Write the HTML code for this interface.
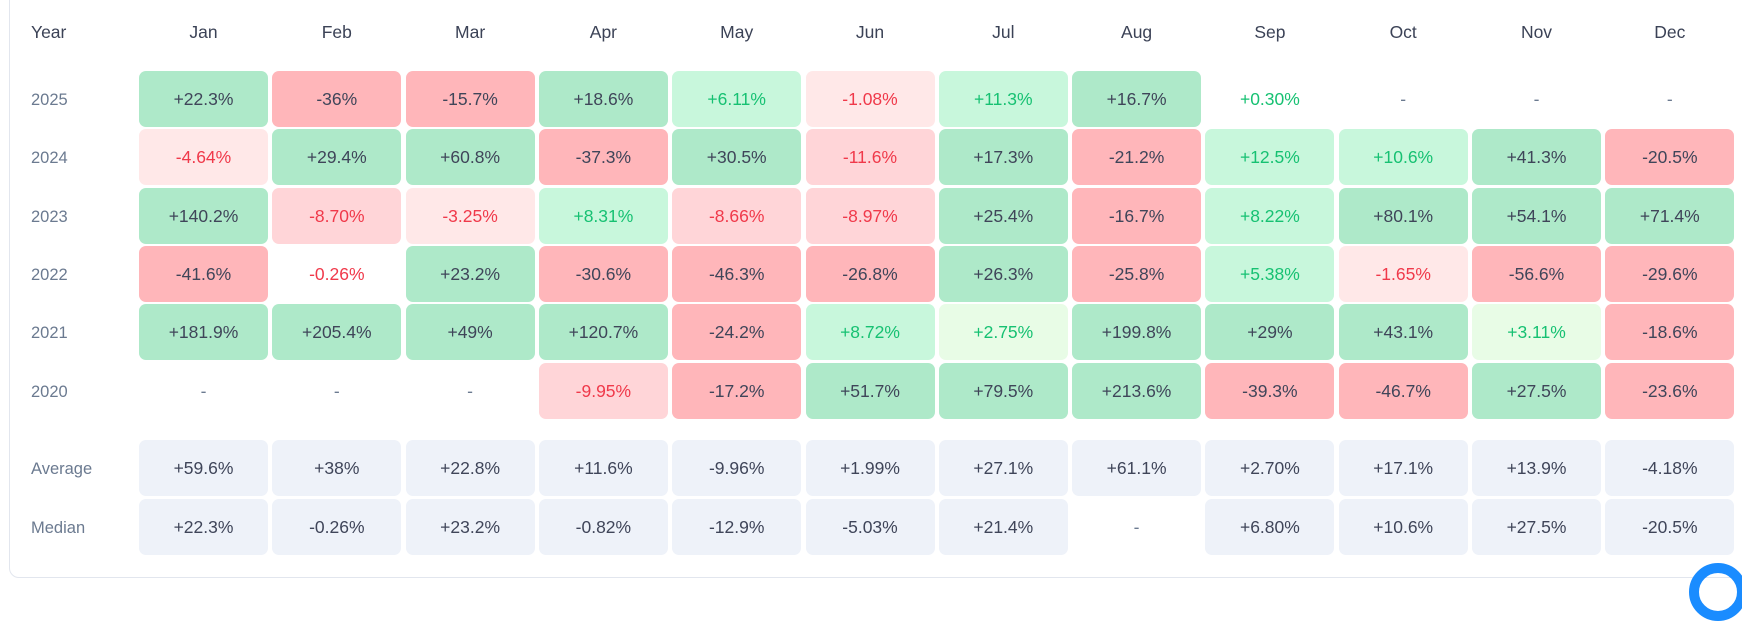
<!DOCTYPE html>
<html><head><meta charset="utf-8"><style>
html,body{margin:0;padding:0;background:#fff;width:1742px;height:583px;overflow:hidden;font-family:"Liberation Sans",sans-serif;}
#card{position:absolute;left:9px;top:-12px;width:1760px;height:590px;border:1px solid #e2e6ee;border-radius:10px;box-sizing:border-box;}
.h{position:absolute;top:20px;height:24px;line-height:24px;font-size:17.5px;color:#3b4256;text-align:center;}
.y{position:absolute;left:31px;font-size:16.5px;color:#6b7a90;}
.c{position:absolute;border-radius:7px;text-align:center;font-size:17.5px;color:#3f4559;}
#blue{position:absolute;left:1689px;top:563px;width:58px;height:58px;border-radius:50%;border:10px solid #1a8cff;box-sizing:border-box;}
</style></head><body>
<div id="card"></div>
<div id="root"></div>
<div id="blue"></div>
<script>
const months=["Jan","Feb","Mar","Apr","May","Jun","Jul","Aug","Sep","Oct","Nov","Dec"];
const years=["2025","2024","2023","2022","2021","2020"];
const v2025=[22.3,-36,-15.7,18.6,6.11,-1.08,11.3,16.7,0.30,null,null,null];
const v2024=[-4.64,29.4,60.8,-37.3,30.5,-11.6,17.3,-21.2,12.5,10.6,41.3,-20.5];
const v2023=[140.2,-8.70,-3.25,8.31,-8.66,-8.97,25.4,-16.7,8.22,80.1,54.1,71.4];
const v2022=[-41.6,-0.26,23.2,-30.6,-46.3,-26.8,26.3,-25.8,5.38,-1.65,-56.6,-29.6];
const v2021=[181.9,205.4,49,120.7,-24.2,8.72,2.75,199.8,29,43.1,3.11,-18.6];
const v2020=[null,null,null,-9.95,-17.2,51.7,79.5,213.6,-39.3,-46.7,27.5,-23.6];
const avgVals=["+59.6%","+38%","+22.8%","+11.6%","-9.96%","+1.99%","+27.1%","+61.1%","+2.70%","+17.1%","+13.9%","-4.18%"];
const medVals=["+22.3%","-0.26%","+23.2%","-0.82%","-12.9%","-5.03%","+21.4%","-","+6.80%","+10.6%","+27.5%","-20.5%"];
const series=[v2025,v2024,v2023,v2022,v2021,v2020];
const root=document.getElementById('root');
const X0=139,PX=133.3,W=129,Y0=71,PY=58.3,H=56;
function fmt(v){
 if(v===null)return '-';
 const a=Math.abs(v);
 let s=Number.isInteger(v)?String(a):(a>=10?a.toFixed(1):a.toFixed(2));
 return (v>=0?'+':'-')+s+'%';}
function style(v){
 if(v===null)return['transparent','#6b7a90'];
 if(v>=15)return['#aee9c9','#3f4559'];
 if(v>=5)return['#c8f7dc','#16c172'];
 if(v>=0.5)return['#e8fce6','#16c172'];
 if(v>=0)return['transparent','#16c172'];
 if(v<=-15)return['#ffb6ba','#3f4559'];
 if(v<=-5)return['#ffd5d8','#f0394a'];
 if(v<=-0.5)return['#ffe8e8','#f0394a'];
 return['transparent','#f0394a'];}
function add(tag,cls,name,l,t,w,h,txt,bg,col){
 const e=document.createElement(tag);e.className=cls;
 
 
 e.style.left=l+'px';e.style.top=t+'px';if(w)e.style.width=w+'px';
 if(h){e.style.height=h+'px';e.style.lineHeight=h+'px';}
 if(bg)e.style.background=bg;if(col)e.style.color=col;
 e.textContent=txt;root.appendChild(e);return e;}
add('div','h','year-header',31,20,0,0,'Year').style.textAlign='left';
months.forEach((m,i)=>add('div','h','month-header-'+m.toLowerCase(),X0+i*PX,20,W,0,m));
years.forEach((y,r)=>{
 const t=Y0+r*PY;
 add('div','y','year-label-'+y,31,t+1,0,H,y);
 series[r].forEach((v,i)=>{const s=style(v);
  add('div','c','cell-'+y+'-'+months[i].toLowerCase(),X0+i*PX,t,W,H,fmt(v),s[0],s[1]);});
});
[['Average',avgVals,440],['Median',medVals,499]].forEach(([lab,arr,t])=>{
 add('div','y',lab.toLowerCase()+'-label',31,t+1,0,H,lab);
 arr.forEach((s,i)=>add('div','c',lab.toLowerCase()+'-'+months[i].toLowerCase(),X0+i*PX,t,W,H,s,s==='-'?'transparent':'#eef2f9',s==='-'?'#6b7a90':'#3f4559'));
});
</script>
</body></html>
